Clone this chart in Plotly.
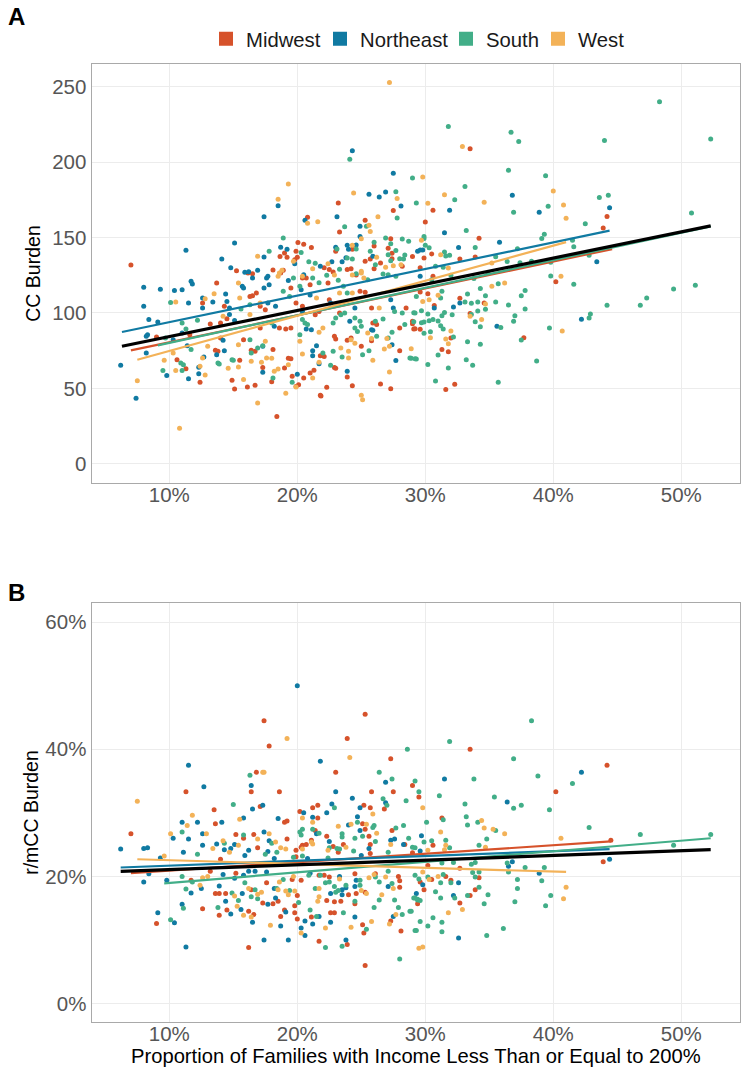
import plotly.graph_objects as go

REGIONS = ["Midwest", "Northeast", "South", "West"]
COLORS = {"Midwest": "#D6522B", "Northeast": "#107AA2", "South": "#42AE88", "West": "#F3B258"}

# Panel A: (percent of families, CC burden)
MIDWEST_A = [(7.0,131.9),(20.8,163.5),(23.2,173),(23.3,153.8),(25.3,161.5),(27.5,168),(27.3,149.3),(20.05,146.7),(20.5,145.6),(21.1,143.4),(19.9,141),(19.0,139.8),(18.65,137.4),(19.2,137),(20,137),(19.8,135.4),(18.1,128.5),(18.7,126.5),(18.9,128.3),(15.25,128),(16.15,126.5),(16.5,126),(23,141),(24.3,142.3),(27.1,143),(27.4,136),(27.4,139.6),(26,144.5),(29,137.4),(25.3,134.3),(25.7,135.8),(26.5,133.2),(26,129.4),(28.2,131),(23.9,128.8),(24.2,129.4),(24.6,125.2),(22.5,128.8),(22.8,127.2),(22.1,130),(20.7,123.2),
(33.5,208.9),(30.6,168.1),(30,160.4),(44.2,164),(43.9,156.4),(34.2,149.6),(30.5,139.2),(29.9,136.5),(32.7,135.8),(33.9,137.2),(29.6,130),(30.6,124.3),
(13.7,119.9),(12.6,106.6),(14.3,104.4),(13.2,92.7),(14,93.4),(14.5,96.2),(14,83.4),(13.6,75.2),(13.8,74.6),(10.6,69),(11.3,63),(12.4,54),(9,84),(11.6,85.6),(14.9,55.3),(15.1,49.6),(16.1,50.9),(16.7,52),(15.5,68.6),(15.8,82.3),(17.1,90),(16.5,111.5),(16.3,111),(16.8,113.3),(16.4,75.2),(16.7,74.6),(18.1,75.7),(18,54.4),(18.4,31.4),(17.3,63.9),(19.3,70),(19.5,69.7),(19,63.5),(19.6,58),(20.5,56.9),(21,60.2),(21.3,62),(20.1,52.4),(19.9,51.3),(21.8,45.4),(21.85,44.9),(22.3,50.7),(23.9,57.5),(24.3,51.8),(26.5,52.9),(27.3,49.8),(22.9,63.9),(23,63.3),(21.8,71.7),(22.1,71.2),(25,77.9),(25.8,81.6),(23.9,81.9),(24.2,83.4),(28,75),(23,82.7),(22.9,84.5),(19.5,116.6),(19.9,106.6),(20.4,104.4),(19.1,89.4),(19.5,90),(18.6,90),(17.1,104.4),(17.5,102.2),(20.4,123.2),(21,118.8),(22.4,119.9),(22.5,108.8),(21.7,101),(21.4,98.9),(23.3,100),(24.9,114.4),(25.3,113.7),(25.8,103.3),(26.2,92.3),(25.9,93.4),(29,94.5),(28.5,103.3),(29.1,89.4),(28,90),
(40.2,120.8),(29.6,113.9),(30.2,112.8),(30.7,104.9),(32.7,109.7),(34.6,106.6),(33.5,99.6),(29,92.9),(29.2,89.6),(29.6,89.2),(32,83.4),(31.3,75.7),(31.8,74.3),(37.7,83.6),(32.3,52.7),(31.6,49.3)]

NORTHEAST_A = [(24.3,207.7),(27.5,192.7),(26.9,180.3),(26.4,177),(25.6,178.8),(28.1,171),(18.5,171.2),(17.4,163.9),(23.1,163.9),(20.6,161.5),(24.9,157.5),(24.9,150.7),(15.1,146.5),(11.3,141.6),(14.1,135.8),(17.4,137.2),(18.7,143.6),(19.2,142.3),(23,143.6),(23.9,144.9),(24.6,145.1),(24,142.3),(14.8,130),(15.9,127),(16.2,127.4),(16.9,128.3),(16.5,123.2),(17.6,123.2),(17.7,124.3),(19.8,132.7),(22.7,134),(23.5,134),(23.8,136.7),(21.8,131),(25.9,137.6),(20.5,125.4),(29.4,141),
(36.8,178.2),(44.4,169.9),(31.9,168.1),(38.9,166.8),(31.5,153.3),(35.8,146.9),(32.6,143.4),(29.6,141.8),(29.8,141.8),(43.4,134),
(8,117),(8,104.4),(9.3,115.7),(10.4,115),(11,115.5),(11.7,121),(11.8,119.2),(11.5,106.6),(12.6,103.3),(12.6,110),(13.4,107.3),(14.4,112.6),(14.5,107.7),(14.7,103.3),(14.7,99),(15.1,95),(8.4,95.6),(9.1,94),(8.3,85.6),(8.2,84.5),(8.2,73.5),(6.2,65.3),(7.4,43.4),(9.8,58.6),(11.5,56.4),(12.3,64),(12.3,59.7),(12.7,70.8),(13.7,72.3),(14.3,75),(14.2,81.9),(10.3,82.3),(11,86.7),(11.4,78.3),(15.7,117.7),(15.8,116.6),(17.4,116.6),(17.7,106.6),(17.8,118.8),(18.3,104.4),(19.3,121.5),(20.3,115.5),(20.4,101),(20.7,89.4),(21.1,88.9),(21.5,78.3),(21.2,75),(21.2,71.7),(21.7,66.4),(23.9,61.3),(20,59.3),(17.3,60.6),(17.3,77.9),(18.2,91.2),(22.6,106.6),(24.5,103.3),(24.1,94.5),(25.8,88.9),(25.9,88.5),(27.3,108.8),(27.5,103.3),(27.4,79),(27.7,68.4),(21,112),
(32.2,104),(32.7,106.6),(30.7,103.3),(35.6,91.2),(42.2,95.8),(29.6,124.3)]

SOUTH_A = [(24.1,202),(29,189.6),(27.7,180.5),(27.8,163),(29.3,173),(23.7,157.3),(25.4,157.5),(18.9,149.8),(26.9,149.8),(28.2,149.1),(28.7,147.6),(26,147),(27.3,146),(17.8,141),(20.3,140.2),(24.6,142.5),(25.7,141),(27.7,141.4),(23.1,142.5),(28.4,138.5),(23.9,136.5),(24.3,135.8),(20.9,134),(21.4,133),(27.1,138.7),(28,136),(28.3,135.8),(27.3,134.7),(26.1,132),(26.7,125.9),(27.1,125.4),(19.7,123.2),(21.2,123.2),(22.3,125),(23.3,129),
(31.8,223.7),(36.7,219.9),(37.3,213.7),(44,214.4),(48.3,240.1),(52.3,215.5),(36.5,194.7),(39.4,191),(33.1,184),(43.6,176.6),(44.3,178.2),(32.3,175.2),(39.6,170.9),(36.9,166.8),(50.8,166.3),(42.5,159.2),(33.2,154.7),(39.3,152.2),(39.1,149.4),(29.9,150.7),(29.9,149.4),(41.5,148.3),(41.6,144),(33.9,143.5),(30.3,143.3),(30,144.9),(37.2,142.7),(31.5,140.4),(31.9,138.3),(31.6,137.8),(35.5,137.3),(36.4,134.2),(37.4,133.3),(38.3,134.4),(38.8,133.3),(39.8,133.7),(42.8,138.3),(30.8,131),(31.4,130.3),(34.9,126.3),(39.8,124.5),(41.6,119),(30.5,122),(35.7,119.4),(33.8,122.8),(32,125),
(51.1,118.4),(49.4,115.9),(47.3,110),(46.8,105.1),(44.2,105.1),(42.9,99.3),(42.8,96.7),(39.7,90),(38.7,68.1),(35.7,54),(37.8,115),(37.5,111.5),(37.8,102.7),(36.5,105.3),(35.5,107.3),(34.7,111.5),(34.3,116.2),(33.3,112.6),(31.3,114.4),(31.2,110),(29.3,111),(33.1,107.3),(33.6,106.4),(34.1,107.3),(34.7,102.4),(34.1,101.3),(33.6,99),(32.1,98.9),(31.5,100.4),(31.3,98.2),(29.7,101.5),(30.2,99.3),(29.1,100.2),(29.1,94.2),(29.7,93.6),(29.9,94),(30.3,94.9),(30.6,95.6),(31,94.7),(33.9,94.2),(34.3,90.9),(31.2,91.6),(31.4,89.4),(30.4,87.6),(29.9,86.5),(32.2,84),(33.3,81),(34.3,79.2),(37.5,82),(36.9,94.5),(37,98.2),(35.9,90.3),(31,72.1),(33.2,69),(33.7,65.3),(30.2,65.9),(29.3,69.5),(28.9,69.9),(31.8,63.5),(30.8,54.9),
(10.1,107),(11,93.4),(11.3,89.4),(12.2,95.1),(9.7,83.4),(11.7,75.7),(10.9,66.8),(11.1,65.7),(11,61.9),(9.5,61.9),(14.9,69),(15,68.6),(13.8,66.8),(13.9,66.2),(18.1,56.9),(16.9,76.8),(17.3,78.3),(16.4,73.5),(18,93.4),(16.3,82.3),(20.2,85.6),(20.2,117.7),(18.9,114.4),(19.4,111),(21.7,120),(23.2,121.7),(23.6,117.7),(23.9,113.3),(22.8,93.4),(23,96.7),(23.4,98.9),(23.7,100),(24.5,96.7),(24.9,94.5),(25,91.2),(24.5,90),(24.7,87.8),(26.1,94.5),(26.7,96),(26.2,84.5),(27.1,83.4),(27.4,87.2),(28.4,92.3),(28.2,100),(28.8,70.1),(29.2,69.7),(22.6,65.3),(22,73.5),(22.8,74.6),(23.5,70.8),(25.1,72.3),(25.6,75),(20.6,93.4),(20.4,95.6),(20.8,92.3),(19.6,54),(16.3,105.5),(15.6,102.7),(27.7,124.3),(25.5,122),(24.6,126),(27.6,101),(29.2,100)]

WEST_A = [(27.2,253),(19.3,185.6),(18.5,175.4),(24.4,179.6),(27.8,175.9),(26.3,163.9),(20.8,159.5),(21.6,160.6),(25.6,158.2),(25.7,154),(25,149.3),(24.3,144.9),(16.9,137.6),(19.7,134.3),(22.4,132.7),(26.2,137),(26.9,130.3),(27.5,131.4),(28.1,132),(21.2,129.4),(25,127.7),(24.3,125.2),(25.2,123.2),(18.8,128.3),(18.5,124.3),(22.9,125.2),(20.4,124.3),
(32.9,210.4),(29.8,190.3),(31.5,178.5),(30.2,172.8),(34.6,173.5),(40,181),(40.8,171.7),(41,162.8),(29.7,148.2),(31.2,138.7),(31.8,129.9),(35.2,133.2),(40.6,124.3),
(10.5,107.3),(12.8,109.5),(13.5,112.8),(15.4,119.9),(15.5,110),(14.2,97.8),(13,77.9),(9.6,68.6),(10.3,73.5),(10.5,61.9),(7.5,55),(10.8,23.5),(12.8,58.9),(12.4,64.6),(12.6,70.1),(14.6,63.3),(15.4,64.2),(15.8,55.8),(16.4,67.9),(17.2,67.3),(17.6,70.1),(16.9,40.3),(19.1,46.7),(19.9,50.9),(18.2,61.3),(18.5,62.8),(19.3,65.7),(20.4,72.8),(21.2,56.9),(21.7,67.3),(25,45.4),(25.1,42.5),(27.2,60.8),(25.9,68.6),(24,70.1),(23.4,76.8),(24,74.6),(26.8,76.1),(28.9,76.3),(27,83),(27.2,77.9),(24.2,82.3),(24.5,80),(25.5,86.7),(25.8,83),(21.7,87.2),(22,90),(23.3,113.3),(24.3,113.3),(25,126.5),(20.2,81.2),(17.5,81.2),(18,70),(16.3,99),(17.1,106.6),(18.6,126.5),(21.5,110),(15.4,79),(26.4,103.3),
(36.2,119.9),(35.2,117.7),(31,111.7),(29.8,107.7),(30.3,108.8),(34.7,106),(33.5,97.8),(34.4,95.6),(32,88),(30.4,83.6),(31.6,82.7),(31.8,79.6),(40.7,88)]

# Panel B: (percent of families, r/mCC burden in percent)
MIDWEST_B = [(7,26.7),(11.3,33.3),(17.4,44.5),(17.8,40.5),(16.8,36.4),(16.4,33.3),(18.6,33.3),(25.3,45.5),(23.9,41.7),(27.3,38.5),(23,36.4),(25.8,33.3),(27.5,33.3),(29,34.3),(29.5,32.5),(13.5,30.5),(17.1,31),(25.2,31.2),(25.7,30.8),(26.8,30.6),(20.2,30.2),(21.2,30.8),(21.6,31.2),(21.6,29.2),(13.6,28.3),(19.2,28.7),(19,28.5),(15.2,26.6),(16.6,26.6),(15.8,26),(16.9,24.5),(19.2,25.9),(21.4,27.2),(22.3,26.3),(21.1,25.7),(25.1,28.3),(25.3,27.4),(25.6,26.3),(27.4,27.2),(22.8,24.7),(23.6,25),(23.2,23.8),(20.4,24.9),(20.7,25),(20.3,24.6),(19.9,24.1),(25.7,25),(25.7,23.6),(28.4,25),(29,23.7),(14,22.7),(19.9,23.1),
(33.5,40),(44.2,37.5),(40.2,33.3),(31.3,29.2),(44.5,25.7),(30.6,24.9),(43.9,22.3),(32.7,21.3),(30.2,21.7),
(9,12.6),(12.6,14.9),(16.2,8.8),(25.3,6),(13.2,20.8),(15.2,20.5),(11.7,19.4),(13.6,17.3),(13.9,17.3),(14.4,17.3),(14.5,14.7),(13.9,13.9),(16.2,14.5),(16.6,14),(16.4,17.9),(17.6,19),(17.3,15.8),(18.1,15.7),(18.5,16.1),(19,14.7),(18.7,13.7),(19.8,14.3),(19.8,15.4),(20,13.3),(20,17),(19.6,19.5),(20.3,19.4),(21.7,9.8),(21.1,13.6),(22.6,14.3),(22.9,14.3),(22.3,16.2),(22.9,16),(23.4,16.1),(21.7,20.2),(22.1,20.2),(22.5,19.9),(24,17.1),(24.5,15.7),(24.6,17.3),(25.3,17.5),(24.5,20.4),(26.1,20.4),(23.9,9.3),(25.1,12.4),(25.2,11.1),(28.1,11.4),(27.3,13),(28,19.3),(28,18.3),(27.9,20),(29.4,15.7),
(34.2,19.8),(31.6,20),(32,19.4),(33.9,17.9),(33.5,17),(32.7,15.8),(29.6,19.1),(29.9,17.9),(30.5,19.5)]

NORTHEAST_B = [(20,50),(11.5,37.5),(12.7,34.1),(16.4,34.3),(21.8,38.1),(23,33.3),(24.3,32.3),(26.9,34.8),(24.9,30.8),(22.7,31.4),(22.3,30),(26.9,31.6),(24.7,29.4),(17.3,31.2),(16.5,30.6),(15.8,29.2),(18.5,29.1),(20.5,30),(21.2,29.3),(11,28.5),(12.2,28.5),(14.1,28.5),(24,28.1),(10.3,26),(11.5,25.9),(12.6,26.7),(12.6,24.9),(6.2,24.3),(8,24.4),(8.3,24.5),(11.1,23.8),(9.3,22.9),(13.7,25.1),(14.3,24.2),(14.8,24.4),(15.1,25),(15.9,23.3),(16.2,24.1),(17.4,27),(17.8,25.6),(17.7,23.9),(18.2,22.8),(21.5,26.7),(22.5,25.5),(24.9,27.2),(25.6,24.4),(25,23.3),(27.3,25.7),(27.6,25.9),(28.3,25),(20.8,22.8),
(31.5,35.3),(42.2,36.4),(36.4,31.7),(29.7,26.4),(29.6,24),(44.4,22.7),(36.8,22.3),(36.5,21.6),
(9.1,14.3),(8,19.1),(8.4,20.4),(9.8,19.4),(10.4,12.7),(11,15.6),(11.3,8.9),(11.7,17.4),(12.5,18.1),(13.9,18.5),(14.2,20.3),(14.4,16.1),(14.8,14.1),(15.1,19.7),(15.7,17.3),(15.6,14.8),(15.8,20.2),(16.2,20.8),(16.7,20.8),(17.6,20.7),(16.5,12.8),(17.4,10),(17.7,15.6),(18.7,12.2),(19.3,10),(19.1,14.4),(18.3,16.6),(18.2,18.1),(20.3,11.9),(20.6,10.7),(20.6,13),(21.2,12.5),(21.7,13.7),(22.6,12.8),(23.8,10),(24.5,13.6),(22.6,17.3),(23.5,17.1),(23.5,17.9),(23.8,18.2),(24.6,19.4),(24.5,18.4),(27.1,18.4),(27.5,13.7),(23.3,20),(21,20.5),
(32.6,19),(32.6,10.3),(32.2,17),(29.3,17.3),(38.9,20.5),(29.8,18.7)]

SOUTH_B = [(16.3,35.9),(15,31.3),(28.6,40),(26.4,36.4),(27.4,35.3),(29.2,35),(26.7,32.2),(27,31.2),(28.5,31.9),(29.5,33.3),(22.9,30.8),(11,27),(15.8,26.5),(20.2,27),(20.4,27.4),(20.3,26.5),(21.2,27.4),(21.7,26.8),(24.7,28.5),(26,28),(25.9,27.7),(27.7,27.6),(28.3,28),(23.5,26.7),(23.5,26.2),(24.5,26),(25.1,26.3),(24.4,24),(26.1,25.5),(28.7,26),(29.2,24.5),(14.3,25.2),(18,25.2),(18.4,23.8),(17.5,23.5),(12.2,23.5),(22.5,24.5),(23.1,24.4),(23.3,24.3),(19.7,23),(20.4,23.2),(22.4,22.9),(27.1,23.8),
(38.3,44.5),(31.9,41.2),(36.9,38.5),(38.8,35.8),(33.8,35.3),(41.5,34.6),(31.1,32.7),(35.4,32.5),(33.1,31.4),(37.5,31.2),(36.9,30.7),(39.7,30.5),(33.2,29.4),(31.4,28.9),(30.1,28.5),(34.1,28.5),(33.3,28.1),(42.8,27.7),(46.8,26.6),(52.3,26.6),(49.4,24.9),(35.5,27.2),(34.8,25.9),(31.6,25.7),(30.5,25.6),(29.9,25.4),(29,24.6),(34.2,24.9),(31.9,24.5),(31.3,22.1),(32.2,22.2),(33.6,21.9),(33.9,22.2),(36.4,22.1),(37.8,21.4),(39.3,21.4),
(10.1,13.2),(11.1,15),(11,20),(11.3,18),(11.8,19.1),(13.8,15.1),(14.9,17.4),(15.4,16.2),(15.9,19),(16.4,16.8),(16.7,17.9),(16.9,16.5),(18.4,18.1),(18.9,19.5),(19.4,17.8),(20.1,15.9),(20.9,20.2),(21,14.7),(21.5,13.7),(21.4,18.1),(22.2,8.8),(21.8,20.2),(22.2,19),(22.5,19.1),(22.9,18.4),(23,17.5),(23.2,17.8),(23.8,18.6),(23.5,9),(23.6,14.3),(24.5,16.1),(24.9,19.4),(24.9,18.6),(25.4,11.7),(26,15.1),(26.4,16.3),(26.1,19.9),(26.4,19.1),(27.4,18.9),(27.6,16.3),(27.9,15.1),(28.2,14),(28.8,14.5),(28,7),(29.2,11.5),(29.2,20.2),(29.2,16.6),(29.4,16.3),(27.1,20.8),
(36.5,20.7),(37.2,19.5),(37.2,18.1),(39.1,19.3),(39.8,17),(37,16),(39.4,15.4),(34.9,17.1),(34.6,15.7),(34.2,18.3),(33.9,19.9),(33.7,20.6),(34.2,20.7),(32,19),(31.4,20.3),(31.2,19),(30.8,17.6),(31.2,16.6),(32.3,16.6),(33.3,17),(30.6,13.5),(31.3,12.8),(29.6,12.9),(30.2,12.2),(29.3,11.5),(31.3,11.3),(28.9,14.5),(29.1,16.6),(29.4,16.4),(29.6,16.2),(30.2,19.9),(29.5,19.6),(34.8,10.7),(36.1,11.8)]

WEST_B = [(7.5,31.8),(19.2,41.7),(24.1,38.7),(17.3,36.4),(17.4,36.4),(11.8,29.6),(11.4,28),(15.5,29),(10.1,26.7),(12.9,26.7),(9.6,23.2),(13.4,24.4),(14.2,25.6),(14.7,23.8),(15.4,24.9),(16.9,25.9),(17.8,26.7),(18.3,25.4),(18.7,24.5),(19.1,24.3),(20.4,24.3),(20.4,29.2),(21.2,28.5),(21.2,25.1),(21.1,25.4),(23.2,27.9),(24.2,28.2),(25.4,28.2),(25.9,29.8),(26.2,26.8),(22.4,24.1),(27.3,25),(23.8,24.6),
(29.8,30.8),(34.4,28.8),(34.6,27.6),(35.3,27.4),(36.2,26.7),(31.2,27),(40.6,26),(31.6,24.9),(30.2,24.1),(31.5,24.2),(34.7,24.6),
(12.4,18.6),(12.6,19.8),(13,20),(15.1,16.9),(15.3,15.3),(15.8,13.9),(16.4,13.6),(16.2,18.1),(17.2,17.5),(16.9,17.2),(17.9,12.3),(18.6,19.1),(18.5,17.9),(19.1,17.7),(19.3,17.1),(19.8,17.7),(19.7,20),(20.3,11.1),(22.2,11.9),(21.7,16.8),(21.6,16.1),(21.7,18.1),(23.3,19.6),(24.2,12),(25,17.8),(25.4,17.3),(25.8,12.9),(26.6,17.1),(26.9,19.9),(26,20.3),(25.6,19.8),(27.2,12.5),(27.7,14),(27.5,18.1),(29.5,8.7),
(41,18.3),(40.8,16.5),(31.8,14.3),(32.9,14.8),(29.8,8.9),(31,20),(30.3,19.5),(29.8,20.7)]

# Fitted lines: x ends and y ends
TREND_A = {"Midwest": ([7, 44.6], [75.2, 142.4]), "Northeast": ([6.3, 44.4], [87.4, 154.6]),
           "South": ([9.1, 52.3], [78.5, 157.5]), "West": ([7.5, 41], [69, 147])}
OVERALL_A = ([6.3, 52.3], [77.9, 157.8])
TREND_B = {"Midwest": ([7, 44.5], [20.5, 25.5]), "Northeast": ([6.2, 44.4], [21.4, 24.3]),
           "South": ([9.6, 52.3], [18.9, 26]), "West": ([7.5, 41], [22.7, 20.7])}
OVERALL_B = ([6.2, 52.3], [20.8, 24.2])

POINTS_A = {"Midwest": MIDWEST_A, "Northeast": NORTHEAST_A, "South": SOUTH_A, "West": WEST_A}
POINTS_B = {"Midwest": MIDWEST_B, "Northeast": NORTHEAST_B, "South": SOUTH_B, "West": WEST_B}

X_TICKS = [10, 20, 30, 40, 50]
Y_TICKS_A = [0, 50, 100, 150, 200, 250]
Y_TICKS_B = [0, 20, 40, 60]

FONT = "Liberation Sans"
W, H = 746, 1073
LEGEND_LEFT = {"Midwest": 206, "Northeast": 320, "South": 446, "West": 538}

fig = go.Figure()
for axis_x, axis_y, points, trend, overall in [("x", "y", POINTS_A, TREND_A, OVERALL_A),
                                               ("x2", "y2", POINTS_B, TREND_B, OVERALL_B)]:
    for region in REGIONS:
        pts = points[region]
        fig.add_trace(go.Scatter(x=[p[0] for p in pts], y=[p[1] for p in pts], mode="markers",
                                 xaxis=axis_x, yaxis=axis_y, showlegend=False,
                                 marker=dict(color=COLORS[region], size=5, line=dict(width=0))))
    for region in REGIONS:
        fig.add_trace(go.Scatter(x=trend[region][0], y=trend[region][1], mode="lines",
                                 xaxis=axis_x, yaxis=axis_y, showlegend=False,
                                 line=dict(color=COLORS[region], width=2.2)))
    fig.add_trace(go.Scatter(x=overall[0], y=overall[1], mode="lines", xaxis=axis_x, yaxis=axis_y,
                             showlegend=False, line=dict(color="black", width=3.2)))

legend_layout = {}
for i, region in enumerate(REGIONS):
    key = "legend" if i == 0 else f"legend{i + 1}"
    fig.add_trace(go.Scatter(x=[None], y=[None], mode="markers", name=region, xaxis="x", yaxis="y",
                             legend=key,
                             marker=dict(color=COLORS[region], size=18, symbol="square",
                                         line=dict(color=COLORS[region], width=2))))
    legend_layout[key] = dict(orientation="h", x=LEGEND_LEFT[region] / W, xanchor="left",
                              y=1 - 39 / H, yanchor="middle",
                              font=dict(family=FONT, size=20.3, color="#1a1a1a"), itemsizing="constant",
                              bgcolor="rgba(0,0,0,0)")

axis_style = dict(showgrid=True, gridcolor="#ececec", gridwidth=1, zeroline=False, showline=True,
                  linecolor="#a9a9a9", linewidth=1, mirror=True, ticks="",
                  tickfont=dict(family=FONT, size=20.5, color="#565656"))
xdom = [91.5 / W, 739.5 / W]
fig.update_layout(
    width=W, height=H, autosize=False, margin=dict(l=0, r=0, t=0, b=0),
    paper_bgcolor="white", plot_bgcolor="white",
    font=dict(family=FONT, color="black"),
    xaxis=dict(domain=xdom, range=[3.92, 54.55], tickvals=X_TICKS, ticktext=[f"{v}%" for v in X_TICKS],
               anchor="y", ticklabelstandoff=-7, **axis_style),
    yaxis=dict(domain=[1 - 483 / H, 1 - 64 / H], range=[-12.8, 265.2], tickvals=Y_TICKS_A, anchor="x",
               title=dict(text="CC Burden", font=dict(family=FONT, size=19.5, color="black"), standoff=6),
               **axis_style),
    xaxis2=dict(domain=xdom, range=[3.92, 54.55], tickvals=X_TICKS, ticktext=[f"{v}%" for v in X_TICKS],
                anchor="y2", ticklabelstandoff=-7, **axis_style),
    yaxis2=dict(domain=[1 - 1022 / H, 1 - 603 / H], range=[-2.9, 63], tickvals=Y_TICKS_B,
                ticktext=[f"{v}%" for v in Y_TICKS_B], anchor="x2",
                title=dict(text="r/mCC Burden", font=dict(family=FONT, size=19.5, color="black"), standoff=1),
                **axis_style),
    annotations=[
        dict(text="<b>A</b>", xref="paper", yref="paper", x=6 / W, y=1 - 17 / H, xanchor="left",
             yanchor="middle", showarrow=False, font=dict(family=FONT, size=24, color="black")),
        dict(text="<b>B</b>", xref="paper", yref="paper", x=6 / W, y=1 - 592 / H, xanchor="left",
             yanchor="middle", showarrow=False, font=dict(family=FONT, size=24, color="black")),
        dict(text="Proportion of Families with Income Less Than or Equal to 200%", xref="paper", yref="paper",
             x=415.5 / W, y=1 - 1056 / H, xanchor="center", yanchor="middle", showarrow=False,
             font=dict(family=FONT, size=20.2, color="black")),
    ],
    **legend_layout,
)
fig.write_html("out.html", config={"displayModeBar": False}, post_script="document.body.style.margin='0';")
